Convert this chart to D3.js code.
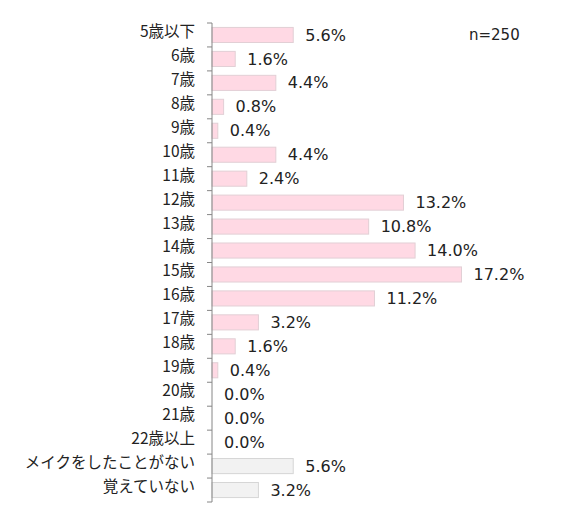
<html>
<head>
<meta charset="utf-8">
<script src="https://d3js.org/d3.v7.min.js"></script>
<style>
  body { margin: 0; background: #fff; }
  text { font-family: "Noto Sans CJK JP", "Noto Sans", sans-serif; fill: #222; }
  .val { font-family: "DejaVu Sans", sans-serif; }
</style>
</head>
<body>
<svg id="chart" width="585" height="528"></svg>
<script>
  var categories = ["5歳以下", "6歳", "7歳", "8歳", "9歳", "10歳", "11歳", "12歳", "13歳", "14歳",
                    "15歳", "16歳", "17歳", "18歳", "19歳", "20歳", "21歳", "22歳以上",
                    "メイクをしたことがない", "覚えていない"];
  var values = [5.6, 1.6, 4.4, 0.8, 0.4, 4.4, 2.4, 13.2, 10.8, 14.0,
                17.2, 11.2, 3.2, 1.6, 0.4, 0.0, 0.0, 0.0, 5.6, 3.2];
  var grayCats = ["メイクをしたことがない", "覚えていない"];
  var sampleLabel = "n=250";

  var plotLeft = 212, plotTop = 23, plotBottom = 502;

  var svg = d3.select("#chart");

  var y = d3.scaleBand()
      .domain(categories)
      .range([plotTop, plotBottom])
      .paddingInner(0.37)
      .paddingOuter(0.185);

  var x = d3.scaleLinear()
      .domain([0, 17.2])
      .range([plotLeft, plotLeft + 249.5]);

  var rows = categories.map(function (c, i) { return { cat: c, val: values[i] }; });

  // bars
  svg.append("g").selectAll("rect")
      .data(rows)
      .enter()
      .append("rect")
      .attr("x", x(0))
      .attr("y", d => y(d.cat))
      .attr("width", d => Math.max(0, x(d.val) - x(0)))
      .attr("height", y.bandwidth())
      .attr("fill", d => grayCats.indexOf(d.cat) >= 0 ? "#f2f2f2" : "#ffd9e4")
      .attr("stroke", d => grayCats.indexOf(d.cat) >= 0 ? "#d6d6d6" : "#e2cfd5")
      .attr("stroke-width", d => d.val > 0 ? 1 : 0);

  // value labels
  svg.append("g").selectAll("text")
      .data(rows)
      .enter()
      .append("text")
      .attr("class", "val")
      .attr("x", d => x(d.val) + 12)
      .attr("y", d => y(d.cat) + y.bandwidth() / 2)
      .attr("dy", "0.35em")
      .style("font-size", "16px")
      .text(d => d.val.toFixed(1) + "%");

  // axis
  var step = y.step();
  var tickYs = categories.map(c => y(c) - y.paddingOuter() * step).concat([plotBottom]);
  var ax = svg.append("g");
  ax.append("line")
      .attr("x1", plotLeft).attr("x2", plotLeft)
      .attr("y1", plotTop).attr("y2", plotBottom)
      .attr("stroke", "#868686");
  ax.selectAll(".tick")
      .data(tickYs)
      .enter()
      .append("line")
      .attr("x1", plotLeft - 5).attr("x2", plotLeft)
      .attr("y1", d => d).attr("y2", d => d)
      .attr("stroke", "#868686");

  // category labels
  svg.append("g").selectAll("text")
      .data(categories)
      .enter()
      .append("text")
      .attr("x", 195)
      .attr("y", d => y(d) + y.bandwidth() / 2 - 3.5)
      .attr("dy", "0.35em")
      .attr("text-anchor", "end")
      .style("font-size", "15.5px")
      .text(d => d);

  svg.append("text")
      .attr("class", "val")
      .attr("x", 469)
      .attr("y", 35)
      .attr("dy", "0.35em")
      .style("font-size", "15px")
      .text(sampleLabel);
</script>
</body>
</html>
